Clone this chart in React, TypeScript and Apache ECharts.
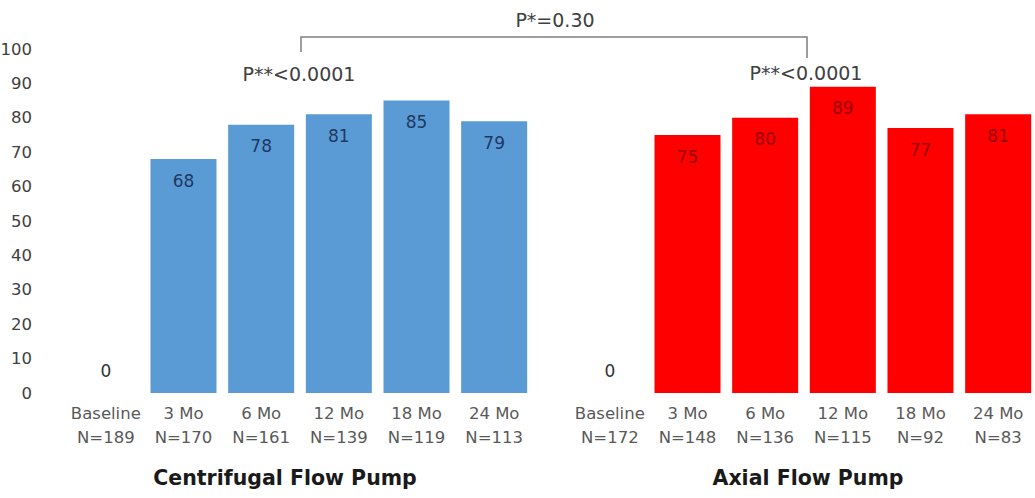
import React, { useEffect, useRef } from "react";
import * as echarts from "echarts";

const categoriesLeft = ["Baseline\nN=189", "3 Mo\nN=170", "6 Mo\nN=161", "12 Mo\nN=139", "18 Mo\nN=119", "24 Mo\nN=113"];
const categoriesRight = ["Baseline\nN=172", "3 Mo\nN=148", "6 Mo\nN=136", "12 Mo\nN=115", "18 Mo\nN=92", "24 Mo\nN=83"];
const centrifugalValues = [0, 68, 78, 81, 85, 79];
const axialValues = [0, 75, 80, 89, 77, 81];
const groupTitles = ["Centrifugal Flow Pump", "Axial Flow Pump"];
const pOverall = "P*=0.30";
const pWithin = "P**<0.0001";

const FONT = "'DejaVu Sans', sans-serif";

function makeData(values: number[], labelColor: string) {
  return values.map((v) =>
    v === 0
      ? { value: v, label: { position: "top", distance: 14, color: "#333333" } }
      : { value: v, label: { position: "insideTop", distance: 13, color: labelColor } }
  );
}

export default function App() {
  const ref = useRef<HTMLDivElement>(null);
  useEffect(() => {
    if (!ref.current) return;
    const chart = echarts.init(ref.current, undefined, { renderer: "svg" });
    const xAxisCommon = {
      type: "category",
      axisLine: { show: false },
      axisTick: { show: false },
      axisLabel: { color: "#595959", fontSize: 16.5, fontFamily: FONT, lineHeight: 24, margin: 8, interval: 0 },
    };
    const yAxisCommon = {
      type: "value",
      min: 0,
      max: 100,
      interval: 10,
      splitLine: { show: false },
      axisLine: { show: false },
      axisTick: { show: false },
    };
    chart.setOption({
      animation: false,
      backgroundColor: "#ffffff",
      grid: [
        { left: 67, width: 466, top: 49, height: 344, containLabel: false, outerBoundsMode: "none" },
        { left: 571, width: 466, top: 49, height: 344, containLabel: false, outerBoundsMode: "none" },
      ],
      xAxis: [
        { ...xAxisCommon, gridIndex: 0, data: categoriesLeft },
        { ...xAxisCommon, gridIndex: 1, data: categoriesRight },
      ],
      yAxis: [
        {
          ...yAxisCommon,
          gridIndex: 0,
          axisLabel: { color: "#404040", fontSize: 16.5, fontFamily: FONT, margin: 35 },
        },
        { ...yAxisCommon, gridIndex: 1, axisLabel: { show: false } },
      ],
      series: [
        {
          type: "bar",
          xAxisIndex: 0,
          yAxisIndex: 0,
          data: makeData(centrifugalValues, "#1f3864"),
          barCategoryGap: "15%",
          itemStyle: { color: "#5b9bd5" },
          label: { show: true, fontSize: 17, fontFamily: FONT },
        },
        {
          type: "bar",
          xAxisIndex: 1,
          yAxisIndex: 1,
          data: makeData(axialValues, "#990000"),
          barCategoryGap: "15%",
          itemStyle: { color: "#ff0000" },
          label: { show: true, fontSize: 17, fontFamily: FONT },
        },
      ],
      graphic: [
        {
          type: "polyline",
          shape: { points: [[301, 52], [301, 37], [807, 37], [807, 58]] },
          style: { stroke: "#7f7f7f", lineWidth: 1.5, fill: null },
        },
        {
          type: "text",
          x: 555,
          y: 20,
          style: { text: pOverall, fontSize: 19, fontFamily: FONT, fill: "#404040", align: "center", verticalAlign: "middle" },
        },
        {
          type: "text",
          x: 299,
          y: 74,
          style: { text: pWithin, fontSize: 19, fontFamily: FONT, fill: "#404040", align: "center", verticalAlign: "middle" },
        },
        {
          type: "text",
          x: 806,
          y: 73,
          style: { text: pWithin, fontSize: 19, fontFamily: FONT, fill: "#404040", align: "center", verticalAlign: "middle" },
        },
        {
          type: "text",
          x: 285,
          y: 478,
          style: { text: groupTitles[0], fontSize: 20.5, fontWeight: "bold", fontFamily: FONT, fill: "#1a1a1a", align: "center", verticalAlign: "middle" },
        },
        {
          type: "text",
          x: 808,
          y: 478,
          style: { text: groupTitles[1], fontSize: 20.5, fontWeight: "bold", fontFamily: FONT, fill: "#1a1a1a", align: "center", verticalAlign: "middle" },
        },
      ],
    });
    return () => chart.dispose();
  }, []);
  return <div ref={ref} style={{ position: "fixed", left: 0, top: 0, width: 1035, height: 498 }} />;
}
